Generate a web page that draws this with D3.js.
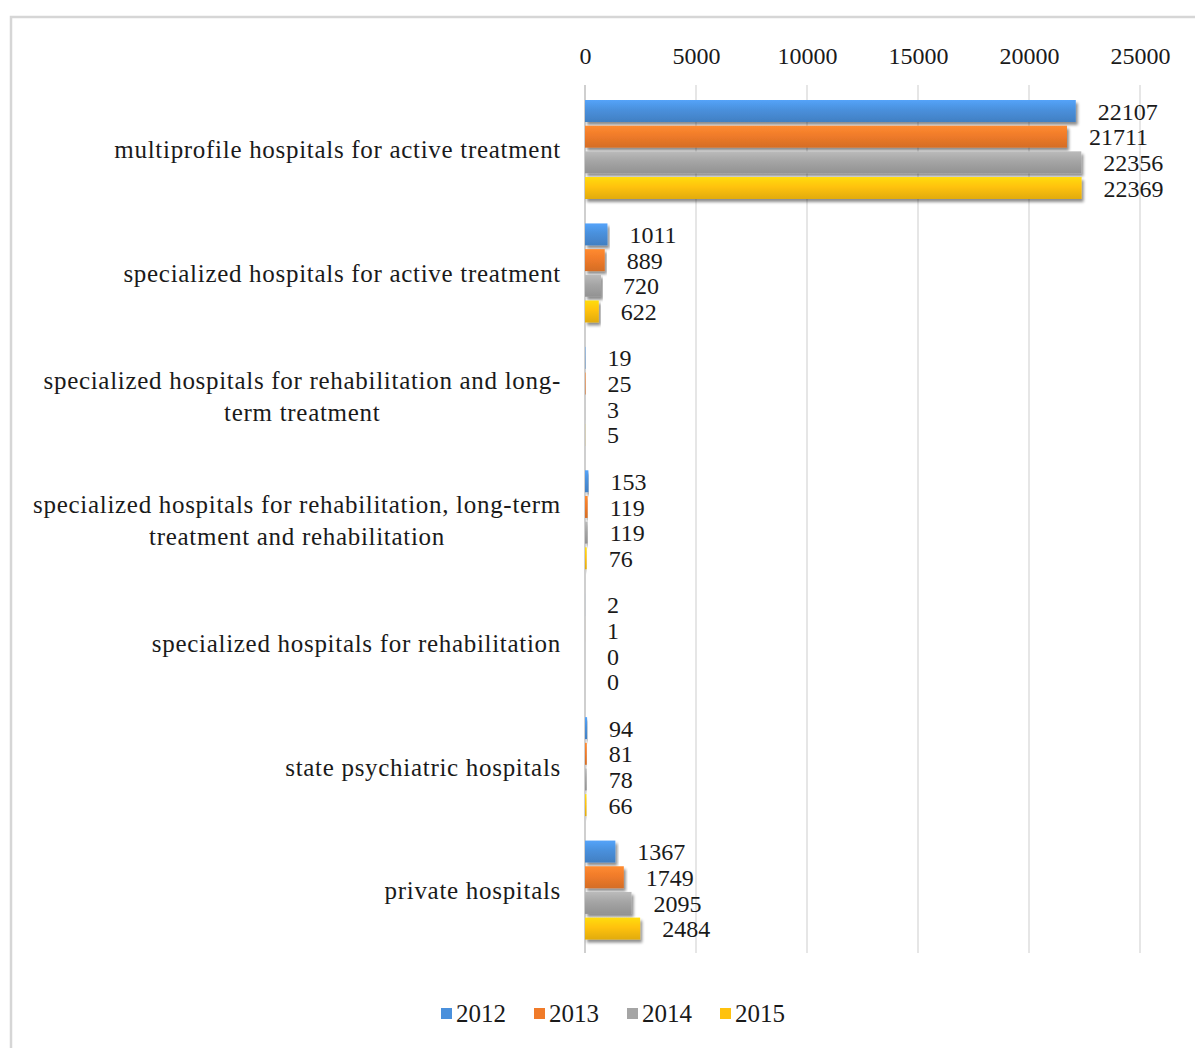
<!DOCTYPE html>
<html>
<head>
<meta charset="utf-8">
<script src="https://cdn.jsdelivr.net/npm/d3@7"></script>
<style>
  html, body { margin: 0; padding: 0; background: #ffffff; }
  svg { display: block; }
</style>
</head>
<body>
<svg id="chart" width="1195" height="1048"></svg>
<script>
// Hospital beds by type of hospital, 2012–2015
const categories = [
  "multiprofile hospitals for active treatment",
  "specialized hospitals for active treatment",
  "specialized hospitals for rehabilitation and long-\nterm treatment",
  "specialized hospitals for rehabilitation, long-term\ntreatment and rehabilitation",
  "specialized hospitals for rehabilitation",
  "state psychiatric hospitals",
  "private hospitals"
];
const years = ["2012", "2013", "2014", "2015"];
const values2012 = [22107, 1011, 19, 153, 2, 94, 1367];
const values2013 = [21711, 889, 25, 119, 1, 81, 1749];
const values2014 = [22356, 720, 3, 119, 0, 78, 2095];
const values2015 = [22369, 622, 5, 76, 0, 66, 2484];
const tickValues = [0, 5000, 10000, 15000, 20000, 25000];
const colors = ["#4a90dc", "#f07b2a", "#a5a5a5", "#ffc20e"];

const FONT = "Liberation Serif, Times New Roman, Times, Noto Serif, DejaVu Serif, serif";

const seriesValues = [values2012, values2013, values2014, values2015];
const rows = categories.map((c, i) => ({
  category: c,
  values: years.map((y, j) => ({ year: y, value: seriesValues[j][i], color: colors[j] }))
}));

const svg = d3.select("#chart").style("font-family", FONT);
const defs = svg.append("defs");

// soft drop shadow under each bar
const shadow = defs.append("filter").attr("id", "barShadow")
  .attr("x", "-5%").attr("y", "-30%").attr("width", "115%").attr("height", "180%");
shadow.append("feGaussianBlur").attr("in", "SourceAlpha").attr("stdDeviation", 1.6).attr("result", "blur");
shadow.append("feOffset").attr("in", "blur").attr("dx", 2).attr("dy", 3).attr("result", "off");
shadow.append("feComponentTransfer").attr("in", "off").attr("result", "soft")
  .append("feFuncA").attr("type", "linear").attr("slope", 0.45);
const merge = shadow.append("feMerge");
merge.append("feMergeNode").attr("in", "soft");
merge.append("feMergeNode").attr("in", "SourceGraphic");

// vertical shading for each series colour
colors.forEach((c, j) => {
  const g = defs.append("linearGradient").attr("id", "grad" + j)
    .attr("x1", 0).attr("y1", 0).attr("x2", 0).attr("y2", 1);
  g.append("stop").attr("offset", "0%").attr("stop-color", d3.color(c).brighter(0.35));
  g.append("stop").attr("offset", "45%").attr("stop-color", c);
  g.append("stop").attr("offset", "100%").attr("stop-color", d3.color(c).darker(0.35));
});

// frame
svg.append("path")
  .attr("d", "M11,1048 V17 H1195")
  .attr("fill", "none").attr("stroke", "#d6d6d6").attr("stroke-width", 2.5);

const x = d3.scaleLinear().domain([0, 25000]).range([585, 1140]);
const y0 = d3.scaleBand().domain(categories).range([88, 952]);
const y1 = d3.scaleBand().domain(years).range([12, 111]).paddingInner(0.144);

// gridlines
svg.append("g").selectAll("line").data(tickValues).join("line")
  .attr("x1", d => x(d)).attr("x2", d => x(d))
  .attr("y1", 85).attr("y2", 953)
  .attr("stroke", d => d === 0 ? "#cfcfcf" : "#dedede")
  .attr("stroke-width", d => d === 0 ? 2 : 1.5);

// top axis labels
const axis = svg.append("g").attr("transform", "translate(0,64)")
  .call(d3.axisTop(x).tickValues(tickValues).tickSize(0).tickPadding(0).tickFormat(d3.format("d")));
axis.attr("font-family", null).attr("font-size", null);
axis.select(".domain").remove();
axis.selectAll("text")
  .attr("font-size", 24).attr("fill", "#1a1a1a").attr("dy", 0);

// bars and value labels
const groups = svg.append("g").selectAll("g").data(rows).join("g")
  .attr("transform", d => `translate(0,${y0(d.category)})`);

groups.selectAll("rect").data(d => d.values).join("rect")
  .attr("x", x(0))
  .attr("y", d => y1(d.year))
  .attr("width", d => x(d.value) - x(0))
  .attr("height", y1.bandwidth())
  .attr("fill", (d, j) => `url(#grad${j})`)
  .attr("filter", "url(#barShadow)");

groups.selectAll("text.val").data(d => d.values).join("text")
  .attr("class", "val")
  .attr("x", d => x(d.value) + 22)
  .attr("y", d => y1(d.year) + y1.bandwidth() / 2)
  .attr("dy", "0.36em")
  .attr("font-size", 24).attr("fill", "#1a1a1a")
  .text(d => d.value);

// category labels (right-aligned block, lines centred on each other)
const labelRight = 561;
const lineHeight = 32;
rows.forEach(r => {
  const lines = r.category.split("\n");
  const cy = y0(r.category) + y0.bandwidth() / 2;
  const t = svg.append("text").attr("font-size", 25).attr("letter-spacing", 0.7).attr("fill", "#1a1a1a");
  const spans = lines.map((ln, k) =>
    t.append("tspan").attr("y", cy + (k - (lines.length - 1) / 2) * lineHeight).attr("dy", "0.35em").text(ln));
  if (lines.length === 1) {
    t.attr("text-anchor", "end");
    spans[0].attr("x", labelRight);
  } else {
    const w = Math.max(...spans.map(s => s.node().getComputedTextLength()));
    t.attr("text-anchor", "middle");
    spans.forEach(s => s.attr("x", labelRight - w / 2));
  }
});

// legend
const legend = svg.append("g").attr("transform", "translate(441,1013)");
let lx = 0;
years.forEach((yr, j) => {
  const g = legend.append("g").attr("transform", `translate(${lx},0)`);
  g.append("rect").attr("x", 0).attr("y", -5).attr("width", 11).attr("height", 11).attr("fill", colors[j]);
  const t = g.append("text").attr("x", 15).attr("y", 0).attr("dy", "0.36em")
    .attr("font-size", 25).attr("fill", "#1a1a1a").text(yr);
  lx += 15 + t.node().getComputedTextLength() + 28;
});
</script>
</body>
</html>
